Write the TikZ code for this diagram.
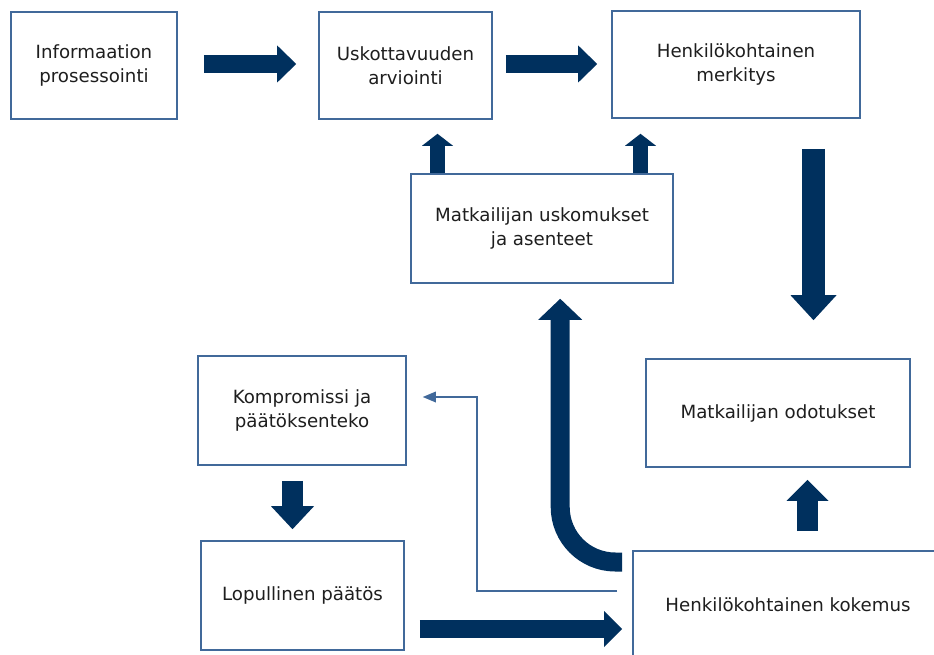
\documentclass[tikz,border=0pt]{standalone}
\usepackage{fontspec}
\setmainfont{DejaVu Sans}
\usetikzlibrary{arrows.meta}
\definecolor{boxblue}{HTML}{41699A}
\definecolor{arrowblue}{RGB}{0,48,94}
\definecolor{textgray}{HTML}{1E1E1E}
\begin{document}
\begin{tikzpicture}[x=1pt,y=-1pt,
  box/.style={draw=boxblue, line width=1.6pt, fill=white, align=center, inner sep=0pt,
    font=\fontsize{18.2}{24.5}\selectfont, text=textgray},
  blk/.style args={#1/#2/#3}{draw=arrowblue, line width=#1,
    -{Triangle[width=#2,length=#3,line width=0pt]}},
  thin/.style={draw=boxblue, line width=1.8pt, -{Triangle[width=11pt,length=13pt,line width=0pt]}}]
\clip (0,0) rectangle (934,655);
\fill[white] (0,0) rectangle (934,655);

\node[box, minimum width=166pt, minimum height=107pt] (A) at (94,65.5) {Informaation\\prosessointi};
\node[box, minimum width=173pt, minimum height=107pt] (B) at (405.5,65.5) {Uskottavuuden\\arviointi};
\node[box, minimum width=248pt, minimum height=107pt] (C) at (736,64.5) {Henkilökohtainen\\merkitys};
\node[box, minimum width=262pt, minimum height=109pt] (D) at (542,228.5) {Matkailijan uskomukset\\ja asenteet};
\node[box, minimum width=208pt, minimum height=109pt] (E) at (302,410.5) {Kompromissi ja\\päätöksenteko};
\node[box, minimum width=203pt, minimum height=109pt] (F) at (302.5,595.5) {Lopullinen päätös};
\node[box, minimum width=264pt, minimum height=108pt] (G) at (778,413) {Matkailijan odotukset};
\node[box, minimum width=310pt, minimum height=108pt] (H) at (788,605) {Henkilökohtainen kokemus};

% top horizontal arrows
\draw[blk=18pt/37pt/19pt, shorten <=26pt, shorten >=22pt] ([yshift=1.5pt]A.east) -- ([yshift=1.5pt]A.east -| B.west);
\draw[blk=18pt/37pt/19pt, shorten <=13pt, shorten >=14pt] ([yshift=1.5pt]B.east) -- ([yshift=1.5pt]B.east -| C.west);
% up arrows from D
\draw[blk=15pt/31pt/12pt, shorten >=14pt] ([xshift=-104.5pt]D.north) -- ([xshift=-104.5pt]D.north |- B.south);
\draw[blk=15pt/31pt/12pt, shorten >=15pt] ([xshift=98.5pt]D.north) -- ([xshift=98.5pt]D.north |- C.south);
% down arrow C -> G
\draw[blk=23pt/46pt/25pt, shorten <=30pt, shorten >=38pt] ([xshift=77.5pt]C.south) -- ([xshift=77.5pt]C.south |- G.north);
% E -> F
\draw[blk=21pt/43pt/23pt, shorten <=15pt, shorten >=11pt] ([xshift=-9.5pt]E.south) -- ([xshift=-9.5pt]E.south |- F.north);
% F -> H
\draw[blk=18pt/36pt/18pt, shorten <=15pt, shorten >=10pt] ([yshift=-33.5pt]F.east) -- ([yshift=-33.5pt]F.east -| H.west);
% H -> G
\draw[blk=21pt/42pt/21pt, shorten <=19pt, shorten >=12pt] ([xshift=19.5pt]H.north) -- ([xshift=19.5pt]H.north |- G.south);
% curved arrow H -> D
\draw[blk=19pt/44pt/21pt, shorten <=10pt, shorten >=15pt] ([yshift=43pt]H.west) -- ++(-17,0)
  arc[start angle=270, end angle=180, radius=55pt] coordinate (ce) -- (ce |- D.south);
% thin arrow H -> E
\draw[thin, shorten <=15pt, shorten >=16pt] ([yshift=14pt]H.west) -- ++(-155,0) |- ([yshift=13.5pt]E.east);
\end{tikzpicture}
\end{document}
